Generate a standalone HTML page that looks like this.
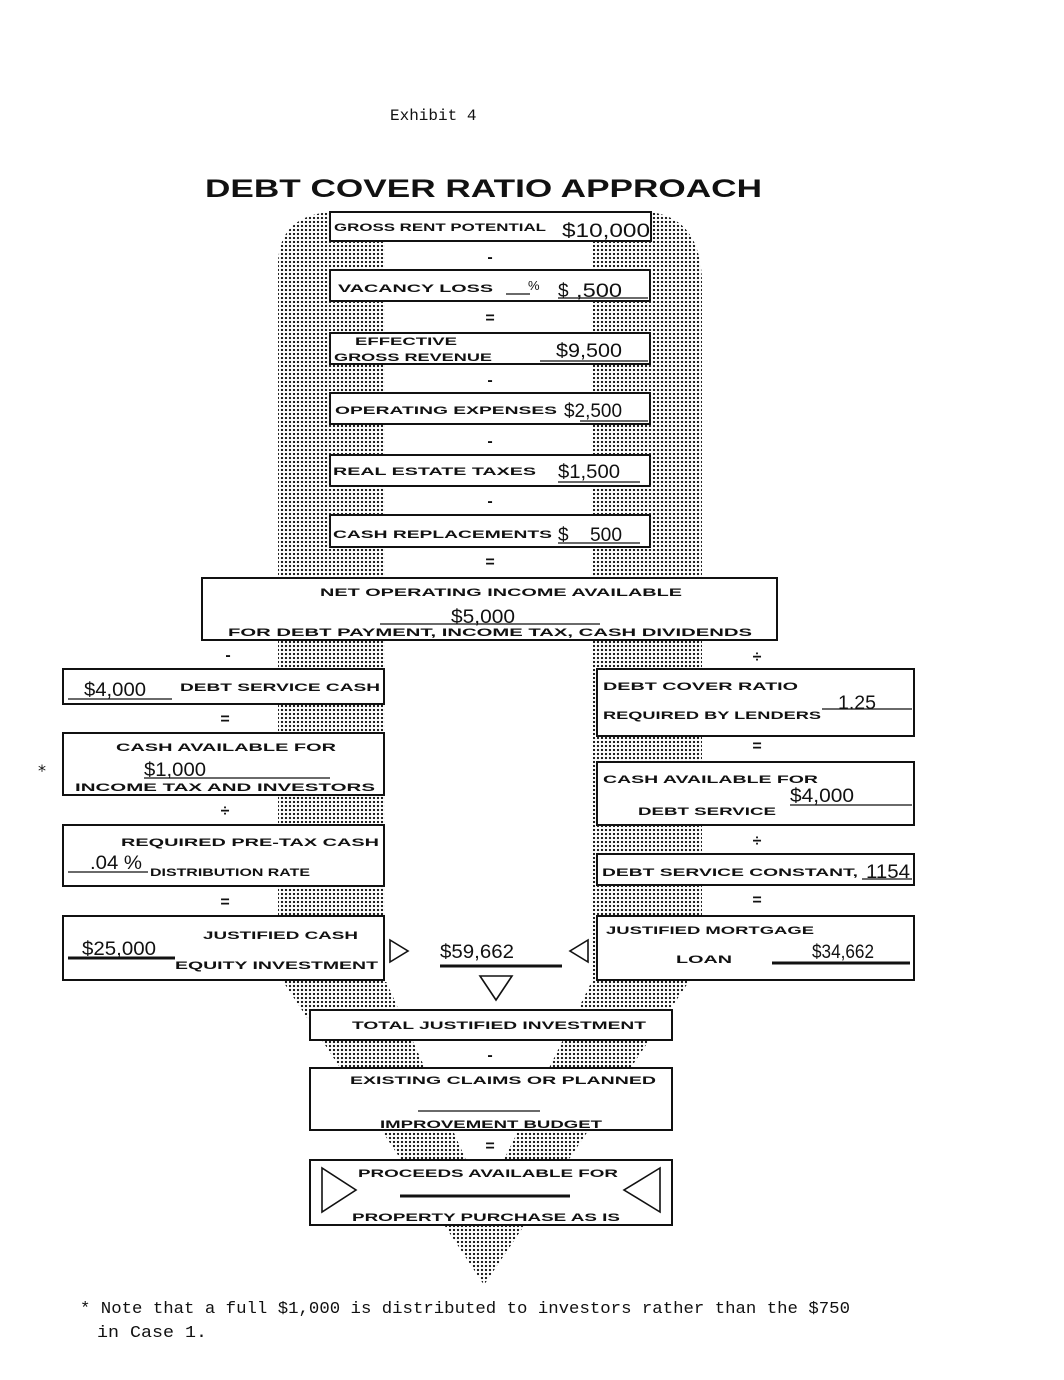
<!DOCTYPE html>
<html><head><meta charset="utf-8"><style>
html,body{margin:0;padding:0;background:#fff}
svg{display:block}
.l{font-family:"Liberation Sans",sans-serif;font-weight:bold;font-size:11px;fill:#111}
.v{font-family:"Liberation Sans",sans-serif;font-size:19px;fill:#111}
.o{font-family:"Liberation Sans",sans-serif;font-weight:bold;font-size:16px;fill:#111}
.m{font-family:"DejaVu Sans","Liberation Sans",sans-serif;font-size:16px;fill:#111}
</style></head><body>
<svg width="1064" height="1380" viewBox="0 0 1064 1380" xmlns="http://www.w3.org/2000/svg">
<defs>
<pattern id="dots" width="4" height="4" patternUnits="userSpaceOnUse">
<circle cx="2" cy="2" r="1.15" fill="#111"/>
</pattern>
</defs>
<rect width="1064" height="1380" fill="#fff"/>
<path d="M278,980 L278,262 Q280,216 330,212 L650,212 Q700,218 702,280 L702,980 L690,980 L484,1285 L282,980 Z" fill="url(#dots)"/>
<rect x="385" y="212" width="208" height="770" fill="#fff"/>
<polygon points="385,979 593,979 484,1200" fill="#fff"/>

<g fill="#fff" stroke="#111" stroke-width="2">
<rect x="330" y="212" width="321" height="29"/>
<rect x="330" y="270" width="320" height="31"/>
<rect x="330" y="333" width="320" height="31"/>
<rect x="330" y="393" width="320" height="31"/>
<rect x="330" y="455" width="320" height="31"/>
<rect x="330" y="515" width="320" height="32"/>
<rect x="202" y="578" width="575" height="62"/>
<rect x="63" y="669" width="321" height="35"/>
<rect x="63" y="733" width="321" height="62"/>
<rect x="63" y="825" width="321" height="61"/>
<rect x="63" y="916" width="321" height="64"/>
<rect x="597" y="669" width="317" height="67"/>
<rect x="597" y="762" width="317" height="63"/>
<rect x="597" y="854" width="317" height="31"/>
<rect x="597" y="916" width="317" height="64"/>
<rect x="310" y="1010" width="362" height="30"/>
<rect x="310" y="1068" width="362" height="62"/>
<rect x="310" y="1160" width="362" height="65"/>
</g>

<text x="390" y="120" style="font-family:'Liberation Mono',monospace;font-size:16px;fill:#111">Exhibit 4</text>
<text x="205" y="197" textLength="557" lengthAdjust="spacingAndGlyphs" style="font-family:'Liberation Sans',sans-serif;font-weight:bold;font-size:25px;fill:#111">DEBT COVER RATIO APPROACH</text>

<g class="l">
<text x="334" y="231" textLength="212" lengthAdjust="spacingAndGlyphs">GROSS RENT POTENTIAL</text>
<text x="338" y="292" textLength="155" lengthAdjust="spacingAndGlyphs">VACANCY LOSS</text>
<text x="355" y="345" textLength="102" lengthAdjust="spacingAndGlyphs">EFFECTIVE</text>
<text x="334" y="361" textLength="158" lengthAdjust="spacingAndGlyphs">GROSS REVENUE</text>
<text x="335" y="414" textLength="222" lengthAdjust="spacingAndGlyphs">OPERATING EXPENSES</text>
<text x="333" y="475" textLength="203" lengthAdjust="spacingAndGlyphs">REAL ESTATE TAXES</text>
<text x="333" y="538" textLength="219" lengthAdjust="spacingAndGlyphs">CASH REPLACEMENTS</text>
<text x="320" y="596" textLength="362" lengthAdjust="spacingAndGlyphs">NET OPERATING INCOME AVAILABLE</text>
<text x="228" y="636" textLength="524" lengthAdjust="spacingAndGlyphs">FOR DEBT PAYMENT, INCOME TAX, CASH DIVIDENDS</text>
<text x="180" y="691" textLength="200" lengthAdjust="spacingAndGlyphs">DEBT SERVICE CASH</text>
<text x="116" y="751" textLength="220" lengthAdjust="spacingAndGlyphs">CASH AVAILABLE FOR</text>
<text x="75" y="791" textLength="300" lengthAdjust="spacingAndGlyphs">INCOME TAX AND INVESTORS</text>
<text x="121" y="846" textLength="258" lengthAdjust="spacingAndGlyphs">REQUIRED PRE-TAX CASH</text>
<text x="150" y="876" textLength="160" lengthAdjust="spacingAndGlyphs">DISTRIBUTION RATE</text>
<text x="203" y="939" textLength="155" lengthAdjust="spacingAndGlyphs">JUSTIFIED CASH</text>
<text x="175" y="969" textLength="203" lengthAdjust="spacingAndGlyphs">EQUITY INVESTMENT</text>
<text x="603" y="690" textLength="195" lengthAdjust="spacingAndGlyphs">DEBT COVER RATIO</text>
<text x="603" y="719" textLength="218" lengthAdjust="spacingAndGlyphs">REQUIRED BY LENDERS</text>
<text x="603" y="783" textLength="215" lengthAdjust="spacingAndGlyphs">CASH AVAILABLE FOR</text>
<text x="638" y="815" textLength="138" lengthAdjust="spacingAndGlyphs">DEBT SERVICE</text>
<text x="602" y="876" textLength="256" lengthAdjust="spacingAndGlyphs">DEBT SERVICE CONSTANT,</text>
<text x="606" y="934" textLength="208" lengthAdjust="spacingAndGlyphs">JUSTIFIED MORTGAGE</text>
<text x="676" y="963" textLength="56" lengthAdjust="spacingAndGlyphs">LOAN</text>
<text x="352" y="1029" textLength="294" lengthAdjust="spacingAndGlyphs">TOTAL JUSTIFIED INVESTMENT</text>
<text x="350" y="1084" textLength="306" lengthAdjust="spacingAndGlyphs">EXISTING CLAIMS OR PLANNED</text>
<text x="380" y="1128" textLength="222" lengthAdjust="spacingAndGlyphs">IMPROVEMENT BUDGET</text>
<text x="358" y="1177" textLength="260" lengthAdjust="spacingAndGlyphs">PROCEEDS AVAILABLE FOR</text>
<text x="352" y="1221" textLength="268" lengthAdjust="spacingAndGlyphs">PROPERTY PURCHASE AS IS</text>
</g>

<g class="v">
<text x="562" y="237" textLength="88" lengthAdjust="spacingAndGlyphs">$10,000</text>
<text x="528" y="290" style="font-size:13px">%</text>
<text x="558" y="297">$</text>
<text x="576" y="297" textLength="46" lengthAdjust="spacingAndGlyphs">,500</text>
<text x="556" y="357" textLength="66" lengthAdjust="spacingAndGlyphs">$9,500</text>
<text x="564" y="417" textLength="58" lengthAdjust="spacingAndGlyphs">$2,500</text>
<text x="558" y="478" textLength="62" lengthAdjust="spacingAndGlyphs">$1,500</text>
<text x="558" y="541">$</text>
<text x="590" y="541" textLength="32" lengthAdjust="spacingAndGlyphs">500</text>
<text x="451" y="623" textLength="64" lengthAdjust="spacingAndGlyphs">$5,000</text>
<text x="84" y="696" textLength="62" lengthAdjust="spacingAndGlyphs">$4,000</text>
<text x="144" y="776" textLength="62" lengthAdjust="spacingAndGlyphs">$1,000</text>
<text x="90" y="869" textLength="52" lengthAdjust="spacingAndGlyphs">.04 %</text>
<text x="82" y="955" textLength="74" lengthAdjust="spacingAndGlyphs">$25,000</text>
<text x="838" y="709" textLength="38" lengthAdjust="spacingAndGlyphs">1.25</text>
<text x="790" y="802" textLength="64" lengthAdjust="spacingAndGlyphs">$4,000</text>
<text x="866" y="878" textLength="44" lengthAdjust="spacingAndGlyphs">1154</text>
<text x="440" y="958" textLength="74" lengthAdjust="spacingAndGlyphs">$59,662</text>
<text x="812" y="958" textLength="62" lengthAdjust="spacingAndGlyphs">$34,662</text>
</g>

<g stroke="#111" stroke-width="1.3" fill="none">
<line x1="506" y1="294" x2="530" y2="294"/>
<line x1="558" y1="298" x2="648" y2="298"/>
<line x1="540" y1="361" x2="648" y2="361"/>
<line x1="580" y1="421" x2="648" y2="421"/>
<line x1="558" y1="482" x2="640" y2="482"/>
<line x1="558" y1="543" x2="640" y2="543"/>
<line x1="380" y1="624" x2="600" y2="624"/>
<line x1="68" y1="699" x2="172" y2="699"/>
<line x1="144" y1="778" x2="330" y2="778"/>
<line x1="68" y1="872" x2="148" y2="872"/>
<line x1="822" y1="709" x2="912" y2="709"/>
<line x1="790" y1="805" x2="912" y2="805"/>
<line x1="862" y1="879" x2="912" y2="879"/>
<line x1="418" y1="1111" x2="540" y2="1111"/>
</g>
<g stroke="#111" stroke-width="3" fill="none">
<line x1="68" y1="958" x2="175" y2="958"/>
<line x1="440" y1="966" x2="562" y2="966"/>
<line x1="772" y1="963" x2="910" y2="963"/>
<line x1="400" y1="1196" x2="570" y2="1196"/>
</g>

<g stroke="#111" stroke-width="1.6" fill="#fff">
<polygon points="390,940 390,962 408,951"/>
<polygon points="588,940 588,962 570,951"/>
<polygon points="480,976 512,976 496,1000"/>
<polygon points="322,1168 322,1212 356,1190"/>
<polygon points="660,1168 660,1212 624,1190"/>
</g>

<g class="o" text-anchor="middle">
<text x="490" y="262">-</text>
<text x="490" y="323">=</text>
<text x="490" y="385">-</text>
<text x="490" y="446">-</text>
<text x="490" y="506">-</text>
<text x="490" y="567">=</text>
<text x="228" y="660">-</text>
<text x="757" y="662">÷</text>
<text x="225" y="724">=</text>
<text x="225" y="816">÷</text>
<text x="225" y="907">=</text>
<text x="757" y="751">=</text>
<text x="757" y="846">÷</text>
<text x="757" y="905">=</text>
<text x="490" y="1060">-</text>
<text x="490" y="1151">=</text>
</g>

<text x="38" y="776" class="m">*</text>
<text x="80" y="1313" textLength="770" lengthAdjust="spacingAndGlyphs" style="font-family:'Liberation Mono',monospace;font-size:17px;fill:#111">* Note that a full $1,000 is distributed to investors rather than the $750</text>
<text x="97" y="1337" textLength="110" lengthAdjust="spacingAndGlyphs" style="font-family:'Liberation Mono',monospace;font-size:17px;fill:#111">in Case 1.</text>
</svg>
</body></html>
